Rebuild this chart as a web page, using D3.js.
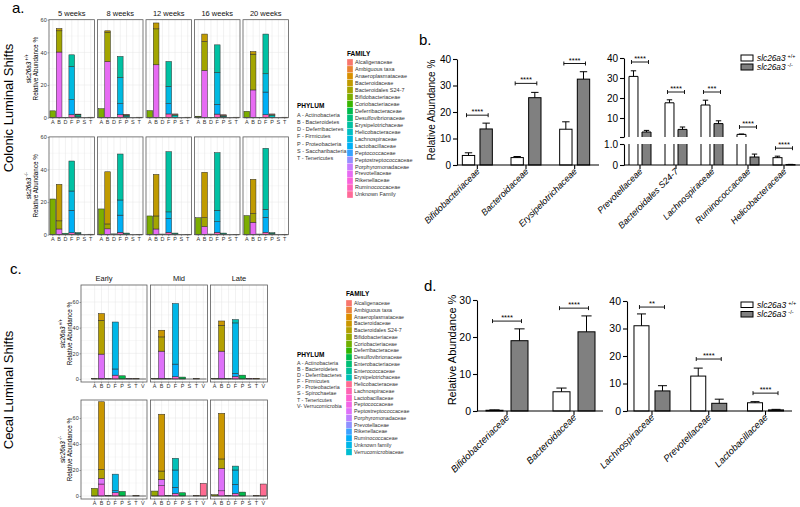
<!DOCTYPE html>
<html><head><meta charset="utf-8">
<script src="https://cdn.jsdelivr.net/npm/d3@7"></script>
<style>
body{margin:0;background:#fff;}
svg{display:block;font-family:"Liberation Sans",Arial,sans-serif;}
</style></head><body>
<svg id="chart" width="800" height="507"></svg>
<script>
// ---------------- DATA ----------------
const colonicFamilies = ["Alcaligenaceae","Ambiguous taxa","Anaeroplasmataceae","Bacteroidaceae","Bacteroidales S24-7","Bifidobacteriaceae","Coriobacteriaceae","Deferribacteraceae","Desulfovibrionaceae","Erysipelotrichaceae","Helicobacteraceae","Lachnospiraceae","Lactobacillaceae","Peptococcaceae","Peptostreptococcaceae","Porphyromonadaceae","Prevotellaceae","Rikenellaceae","Ruminococcaceae","Unknown Family"];
const colonicPhyla = ["A","B","D","F","P","S","T"];
const colonicPhylumNames = ["A - Actinobacteria","B - Bacteroidetes","D - Deferribacteres","F - Firmicutes","P - Proteobacteria","S - Saccharibacteria","T - Tenericutes"];
const colonicWeeks = ["5 weeks","8 weeks","12 weeks","16 weeks","20 weeks"];
const facetTicks = [0,20,40,60];

// [phylum, family, relative abundance %]
const colonicWT_5w = [["A","Bifidobacteriaceae",4.2],["B","Prevotellaceae",40.2],["B","Bacteroidales S24-7",13.0],["B","Bacteroidaceae",1.4],["D","Deferribacteraceae",0.2],["F","Ruminococcaceae",1.8],["F","Lactobacillaceae",9.2],["F","Lachnospiraceae",20.4],["F","Erysipelotrichaceae",7.1],["P","Helicobacteraceae",1.0],["P","Desulfovibrionaceae",0.8],["P","Alcaligenaceae",0.4],["T","Anaeroplasmataceae",0.3]];
const colonicWT_8w = [["A","Bifidobacteriaceae",5.5],["B","Prevotellaceae",34.4],["B","Bacteroidales S24-7",18.0],["B","Bacteroidaceae",0.8],["D","Deferribacteraceae",0.2],["F","Ruminococcaceae",1.8],["F","Lactobacillaceae",6.8],["F","Lachnospiraceae",16.0],["F","Erysipelotrichaceae",12.9],["P","Helicobacteraceae",1.0],["P","Desulfovibrionaceae",0.6],["P","Alcaligenaceae",0.4],["T","Anaeroplasmataceae",0.3]];
const colonicWT_12w = [["A","Bifidobacteriaceae",4.3],["B","Prevotellaceae",32.4],["B","Bacteroidales S24-7",22.0],["B","Bacteroidaceae",3.6],["D","Deferribacteraceae",0.2],["F","Ruminococcaceae",2.3],["F","Lactobacillaceae",6.3],["F","Lachnospiraceae",10.6],["F","Erysipelotrichaceae",15.2],["P","Helicobacteraceae",1.2],["P","Desulfovibrionaceae",0.7],["P","Alcaligenaceae",0.4],["T","Anaeroplasmataceae",0.3]];
const colonicWT_16w = [["A","Bifidobacteriaceae",0.5],["A","Coriobacteriaceae",0.4],["B","Prevotellaceae",29.0],["B","Bacteroidales S24-7",17.7],["B","Bacteroidaceae",4.5],["D","Deferribacteraceae",0.2],["F","Ruminococcaceae",2.2],["F","Lactobacillaceae",6.0],["F","Lachnospiraceae",19.5],["F","Erysipelotrichaceae",16.9],["P","Helicobacteraceae",0.9],["P","Desulfovibrionaceae",0.5],["P","Alcaligenaceae",0.4],["T","Anaeroplasmataceae",0.3]];
const colonicWT_20w = [["A","Bifidobacteriaceae",3.9],["B","Prevotellaceae",17.0],["B","Bacteroidales S24-7",21.9],["B","Bacteroidaceae",1.6],["D","Deferribacteraceae",0.2],["F","Ruminococcaceae",1.8],["F","Lactobacillaceae",13.9],["F","Lachnospiraceae",11.2],["F","Erysipelotrichaceae",24.3],["P","Helicobacteraceae",1.2],["P","Desulfovibrionaceae",0.7],["P","Alcaligenaceae",0.4],["T","Anaeroplasmataceae",0.3]];
const colonicKO_5w = [["A","Bifidobacteriaceae",21.9],["B","Prevotellaceae",3.5],["B","Bacteroidales S24-7",5.0],["B","Bacteroidaceae",22.4],["D","Deferribacteraceae",0.9],["F","Ruminococcaceae",1.2],["F","Lactobacillaceae",13.8],["F","Lachnospiraceae",11.8],["F","Erysipelotrichaceae",18.4],["P","Helicobacteraceae",0.8],["P","Desulfovibrionaceae",0.5],["T","Anaeroplasmataceae",0.3]];
const colonicKO_8w = [["A","Bifidobacteriaceae",15.8],["B","Prevotellaceae",3.6],["B","Bacteroidales S24-7",3.0],["B","Bacteroidaceae",32.0],["D","Deferribacteraceae",0.5],["F","Ruminococcaceae",1.5],["F","Lactobacillaceae",10.5],["F","Lachnospiraceae",9.3],["F","Erysipelotrichaceae",28.2],["P","Helicobacteraceae",0.6],["P","Desulfovibrionaceae",0.4],["T","Anaeroplasmataceae",0.2]];
const colonicKO_12w = [["A","Bifidobacteriaceae",11.5],["B","Prevotellaceae",3.5],["B","Bacteroidales S24-7",8.0],["B","Bacteroidaceae",25.5],["D","Deferribacteraceae",0.4],["F","Ruminococcaceae",1.5],["F","Lactobacillaceae",8.5],["F","Lachnospiraceae",4.0],["F","Erysipelotrichaceae",36.9],["P","Helicobacteraceae",0.6],["P","Desulfovibrionaceae",0.4],["T","Anaeroplasmataceae",0.2]];
const colonicKO_16w = [["A","Bifidobacteriaceae",10.4],["B","Prevotellaceae",5.0],["B","Bacteroidales S24-7",5.4],["B","Bacteroidaceae",27.9],["D","Deferribacteraceae",0.4],["F","Ruminococcaceae",1.5],["F","Lactobacillaceae",6.5],["F","Lachnospiraceae",7.0],["F","Erysipelotrichaceae",35.3],["P","Helicobacteraceae",0.6],["P","Desulfovibrionaceae",0.4],["T","Anaeroplasmataceae",0.2]];
const colonicKO_20w = [["A","Bifidobacteriaceae",11.7],["B","Prevotellaceae",7.6],["B","Bacteroidales S24-7",5.4],["B","Bacteroidaceae",21.0],["D","Deferribacteraceae",0.4],["F","Ruminococcaceae",1.5],["F","Lactobacillaceae",9.2],["F","Lachnospiraceae",4.9],["F","Erysipelotrichaceae",37.4],["P","Helicobacteraceae",0.7],["P","Desulfovibrionaceae",0.5],["T","Anaeroplasmataceae",0.2]];

const cecalFamilies = ["Alcaligenaceae","Ambiguous taxa","Anaeroplasmataceae","Bacteroidaceae","Bacteroidales S24-7","Bifidobacteriaceae","Coriobacteriaceae","Deferribacteraceae","Desulfovibrionaceae","Enterobacteriaceae","Enterococcaceae","Erysipelotrichaceae","Helicobacteraceae","Lachnospiraceae","Lactobacillaceae","Peptococcaceae","Peptostreptococcaceae","Porphyromonadaceae","Prevotellaceae","Rikenellaceae","Ruminococcaceae","Unknown family","Verrucomicrobiaceae"];
const cecalPhyla = ["A","B","D","F","P","S","T","V"];
const cecalPhylumNames = ["A - Actinobacteria","B - Bacteroidetes","D - Deferribacteres","F - Firmicutes","P - Proteobacteria","S - Spirochaetae","T - Tenericutes","V- Verrucomicrobia"];
const cecalStages = ["Early","Mid","Late"];

const cecalWT_Early = [["A","Bifidobacteriaceae",0.5],["B","Rikenellaceae",0.5],["B","Prevotellaceae",18.9],["B","Bacteroidales S24-7",26.3],["B","Bacteroidaceae",5.3],["D","Deferribacteraceae",0.2],["F","Ruminococcaceae",3.0],["F","Lactobacillaceae",4.8],["F","Lachnospiraceae",36.6],["P","Desulfovibrionaceae",2.5],["S","Unknown family",0.3],["T","Anaeroplasmataceae",0.3]];
const cecalWT_Mid = [["A","Bifidobacteriaceae",0.5],["B","Rikenellaceae",0.5],["B","Prevotellaceae",21.2],["B","Bacteroidales S24-7",11.1],["B","Bacteroidaceae",5.2],["D","Deferribacteraceae",0.2],["F","Ruminococcaceae",1.8],["F","Lactobacillaceae",9.8],["F","Lachnospiraceae",47.2],["P","Desulfovibrionaceae",1.5],["T","Anaeroplasmataceae",0.3]];
const cecalWT_Late = [["A","Bifidobacteriaceae",0.5],["B","Rikenellaceae",0.5],["B","Prevotellaceae",21.2],["B","Bacteroidales S24-7",20.1],["B","Bacteroidaceae",3.4],["D","Deferribacteraceae",0.2],["F","Ruminococcaceae",2.0],["F","Lactobacillaceae",2.4],["F","Lachnospiraceae",39.3],["F","Erysipelotrichaceae",2.6],["P","Desulfovibrionaceae",3.0],["S","Unknown family",0.5],["T","Anaeroplasmataceae",0.5]];
const cecalKO_Early = [["A","Bifidobacteriaceae",5.9],["B","Rikenellaceae",9.2],["B","Prevotellaceae",4.4],["B","Bacteroidales S24-7",6.9],["B","Bacteroidaceae",52.0],["D","Deferribacteraceae",0.3],["F","Ruminococcaceae",2.5],["F","Lactobacillaceae",1.6],["F","Lachnospiraceae",12.7],["P","Desulfovibrionaceae",3.5],["T","Anaeroplasmataceae",0.3]];
const cecalKO_Mid = [["A","Bifidobacteriaceae",3.8],["B","Rikenellaceae",8.0],["B","Prevotellaceae",4.8],["B","Bacteroidales S24-7",6.4],["B","Bacteroidaceae",43.7],["D","Deferribacteraceae",0.3],["F","Ruminococcaceae",2.0],["F","Lactobacillaceae",4.7],["F","Lachnospiraceae",13.3],["F","Erysipelotrichaceae",9.0],["P","Desulfovibrionaceae",2.5],["T","Anaeroplasmataceae",0.3],["V","Verrucomicrobiaceae",9.7]];
const cecalKO_Late = [["A","Bifidobacteriaceae",1.0],["B","Rikenellaceae",4.0],["B","Prevotellaceae",17.3],["B","Bacteroidales S24-7",7.2],["B","Bacteroidaceae",35.1],["D","Deferribacteraceae",0.3],["F","Ruminococcaceae",2.0],["F","Lactobacillaceae",7.0],["F","Lachnospiraceae",11.0],["F","Erysipelotrichaceae",3.0],["P","Desulfovibrionaceae",3.0],["T","Anaeroplasmataceae",0.3],["V","Verrucomicrobiaceae",9.2]];

// panel b
const bLeftFamilies = ["Bifidobacteriaceae","Bacteroidaceae","Erysipelotrichaceae"];
const bLeftWT = [3.6, 2.8, 13.5];
const bLeftWTsem = [1.0, 0.4, 2.8];
const bLeftKO = [13.6, 25.4, 32.4];
const bLeftKOsem = [2.2, 2.0, 2.8];
const bLeftSig = ["****","****","****"];
const bLeftSigAt = [18.8, 30.8, 38.3];
const bLeftTicks = [0,10,20,30,40];

const bRightFamilies = ["Prevotellaceae","Bacteroidales S24-7","Lachnospiraceae","Ruminococcaceae","Helicobacteraceae"];
const bRightWT = [30.8, 17.6, 16.5, 1.8, 0.35];
const bRightWTsem = [2.8, 1.5, 2.4, 0.2, 0.07];
const bRightKO = [3.0, 4.3, 7.2, 0.38, 0.02];
const bRightKOsem = [0.8, 1.2, 1.4, 0.14, 0.01];
const bRightSig = ["****","****","***","****","****"];
const bRightSigAt = [38, 23, 23, 5.5, 0.8];
const bRightTicksHigh = [10,20,30,40];
const bRightTicksLow = [0,1];

// panel d
const dLeftFamilies = ["Bifidobacteriaceae","Bacteroidaceae"];
const dLeftWT = [0.2, 5.2];
const dLeftWTsem = [0.1, 1.0];
const dLeftKO = [19.0, 21.4];
const dLeftKOsem = [3.2, 4.3];
const dLeftSig = ["****","****"];
const dLeftSigAt = [24.3, 27.8];
const dLeftTicks = [0,10,20,30];

const dRightFamilies = ["Lachnospiraceae","Prevotellaceae","Lactobacillaceae"];
const dRightWT = [31.0, 12.7, 3.0];
const dRightWTsem = [4.3, 2.9, 0.4];
const dRightKO = [7.3, 2.8, 0.4];
const dRightKOsem = [1.9, 1.5, 0.2];
const dRightSig = ["**","****","****"];
const dRightSigAt = [37.8, 18.9, 6.5];
const dRightTicks = [0,10,20,30,40];

const genotypes = ["WT","KO"];

// ---------------- HELPERS ----------------
const svg = d3.select("#chart");

function hueColor(h){
  const l=65,c=100,hr=h*Math.PI/180;
  const U=c*Math.cos(hr),V=c*Math.sin(hr);
  const Y=100*Math.pow((l+16)/116,3);
  const up=U/(13*l)+0.1978398, vp=V/(13*l)+0.4683363;
  const X=9*Y*up/(4*vp), Z=-X/3-5*Y+3*Y/vp;
  const x=X/100,y=Y/100,z=Z/100;
  const lin=[3.240479*x-1.537150*y-0.498535*z,-0.969256*x+1.875992*y+0.041556*z,0.055648*x-0.204043*y+1.057311*z];
  const v=lin.map(u=>{u=u>0.00304?1.055*Math.pow(u,1/2.4)-0.055:12.92*u;return Math.round(255*Math.max(0,Math.min(1,u)));});
  return d3.rgb(v[0],v[1],v[2]).formatHex();
}
function huePalette(n){return d3.range(n).map(i=>hueColor(15+360*i/n));}

function genoTitle(sel, x, y, geno, rotate, size){
  const t=sel.append("text").attr("font-size",size).attr("text-anchor","middle")
    .attr("transform",`translate(${x},${y}) rotate(${rotate})`);
  t.append("tspan").attr("font-style","italic").text("slc26a3");
  t.append("tspan").attr("font-size",size*0.7).attr("dy",-size*0.4).text(" "+geno);
  return t;
}

function facetGrid(o){
  const g=svg.append("g");
  const pal=huePalette(o.families.length);
  const col=new Map(o.families.map((f,i)=>[f,pal[i]]));
  const idx=new Map(o.families.map((f,i)=>[f,i]));
  o.rows.forEach((row,ri)=>{
    const y=d3.scaleLinear().domain([0,60]).range([row.zero,row.sixty]);
    o.cols.forEach((c,ci)=>{
      const bx0=c.bx0!==undefined?c.bx0:c.x;
      const x=d3.scaleBand().domain(o.phyla).range([bx0,c.x+c.w]).paddingInner(0.1).paddingOuter(0.15);
      const p=g.append("g");
      p.append("rect").attr("x",c.x).attr("y",row.top).attr("width",c.w).attr("height",row.bottom-row.top).attr("fill","#fff");
      const maxV=y.invert(row.top);
      d3.range(0,maxV,10).forEach(v=>{
        p.append("line").attr("x1",c.x).attr("x2",c.x+c.w).attr("y1",y(v)).attr("y2",y(v))
          .attr("stroke",v%20===0?"#e4e4e4":"#f1f1f1").attr("stroke-width",0.5);
      });
      o.phyla.forEach(ph=>{
        const cx=x(ph)+x.bandwidth()/2;
        p.append("line").attr("x1",cx).attr("x2",cx).attr("y1",row.top).attr("y2",row.bottom).attr("stroke","#e4e4e4").attr("stroke-width",0.5);
      });
      const data=o.data[ri][ci];
      o.phyla.forEach(ph=>{
        const segs=data.filter(d=>d[0]===ph).sort((a,b)=>idx.get(b[1])-idx.get(a[1]));
        let cum=0;
        segs.forEach(s=>{
          const y0=cum,y1=cum+s[2];cum=y1;
          p.append("rect").attr("x",x(ph)).attr("width",x.bandwidth()).attr("y",y(y1)).attr("height",y(y0)-y(y1))
            .attr("fill",col.get(s[1])).attr("stroke","#2a2a2a").attr("stroke-width",0.5);
        });
      });
      p.append("line").attr("x1",x(o.phyla[0])).attr("x2",x(o.phyla[o.phyla.length-1])+x.bandwidth())
        .attr("y1",y(0)).attr("y2",y(0)).attr("stroke","#2a2a2a").attr("stroke-width",0.7);
      p.append("rect").attr("x",c.x).attr("y",row.top).attr("width",c.w).attr("height",row.bottom-row.top)
        .attr("fill","none").attr("stroke","#5a5a5a").attr("stroke-width",0.8);
      const ax=p.append("g").attr("transform",`translate(0,${row.bottom})`)
        .call(d3.axisBottom(x).tickSize(1.5).tickPadding(0.5).tickSizeOuter(0));
      ax.select(".domain").remove();
      ax.selectAll("text").attr("font-size",o.tickFont).attr("fill","#333").attr("font-family",'"Liberation Sans",Arial,sans-serif');
      ax.selectAll("line").attr("stroke","#555").attr("stroke-width",0.5);
      if(ci===0){
        const ay=p.append("g").attr("transform",`translate(${c.x},0)`)
          .call(d3.axisLeft(y).tickValues(facetTicks).tickSize(1.5).tickPadding(0.8));
        ay.select(".domain").remove();
        ay.selectAll("text").attr("font-size",o.tickFont).attr("fill","#333").attr("font-family",'"Liberation Sans",Arial,sans-serif');
        ay.selectAll("line").attr("stroke","#555").attr("stroke-width",0.5);
        const cy=(row.top+row.bottom)/2;
        genoTitle(g,o.titleX1,cy,row.geno,-90,o.titleFont);
        g.append("text").attr("font-size",o.titleFont).attr("text-anchor","middle")
          .attr("transform",`translate(${o.titleX2},${cy}) rotate(-90)`).text("Relative Abundance %");
      }
      if(ri===0){
        g.append("text").attr("x",c.lx!==undefined?c.lx:c.x+c.w/2).attr("y",o.stripY).attr("text-anchor","middle")
          .attr("font-size",o.stripFont).attr("fill","#111").text(o.colLabels[ci]);
      }
    });
  });
  // phylum legend
  const lp=g.append("g");
  lp.append("text").attr("x",o.phylumX).attr("y",o.phylumY).attr("font-size",o.legTitleFont).attr("font-weight","bold").text("PHYLUM");
  o.phylumNames.forEach((n,i)=>{
    lp.append("text").attr("x",o.phylumX).attr("y",o.phylumY+o.phylumGap*(i+1)+1.5).attr("font-size",o.legFont).attr("fill","#333").text(n);
  });
  // family legend
  const lf=g.append("g");
  lf.append("text").attr("x",o.famX).attr("y",o.famTitleY).attr("font-size",o.legTitleFont).attr("font-weight","bold").text("FAMILY");
  o.families.forEach((f,i)=>{
    const yy=o.famY+i*o.famGap;
    lf.append("rect").attr("x",o.famX).attr("y",yy).attr("width",6).attr("height",o.famGap)
      .attr("fill",pal[o.keyIndex?o.keyIndex(i):i]).attr("stroke","#fff").attr("stroke-width",0.3);
    lf.append("text").attr("x",o.famX+8).attr("y",yy+o.famGap/2+1.8).attr("font-size",o.legFont).attr("fill","#333").text(f);
  });
}

function barChart(o){
  const g=svg.append("g");
  const x=d3.scaleBand().domain(o.families).range(o.xRange);
  const xs=d3.scaleBand().domain(genotypes).range(o.inner).paddingInner(o.innerPad);
  const bw=xs.bandwidth();
  const yv=o.yv;
  const vals={WT:o.wt,KO:o.ko}, sems={WT:o.wtSem,KO:o.koSem};
  const fill={WT:"#ffffff",KO:"#808080"};
  o.families.forEach((f,i)=>{
    const cx=x(f)+x.bandwidth()/2;
    genotypes.forEach(gt=>{
      const v=vals[gt][i], e=sems[gt][i];
      const bx=cx+xs(gt);
      o.drawBar(g,bx,bw,v,fill[gt]);
      if(e>0){
        const top=yv(v+e);
        g.append("line").attr("x1",bx+bw/2).attr("x2",bx+bw/2).attr("y1",yv(v)).attr("y2",top).attr("stroke","#000").attr("stroke-width",1);
        g.append("line").attr("x1",bx+bw*0.2).attr("x2",bx+bw*0.8).attr("y1",top).attr("y2",top).attr("stroke","#000").attr("stroke-width",1);
      }
    });
    const x1=cx+xs("WT")+bw/2-2, x2=cx+xs("KO")+bw/2+2, yy=yv(o.sigAt[i]);
    g.append("line").attr("x1",x1).attr("x2",x2).attr("y1",yy).attr("y2",yy).attr("stroke","#000").attr("stroke-width",0.9);
    [x1,x2].forEach(xx=>g.append("line").attr("x1",xx).attr("x2",xx).attr("y1",yy-2).attr("y2",yy+2).attr("stroke","#000").attr("stroke-width",0.9));
    g.append("text").attr("x",(x1+x2)/2).attr("y",yy-1).attr("text-anchor","middle").attr("font-size",o.sigFont).text(o.sig[i]);
    g.append("text").attr("font-size",o.labelFont).attr("font-style","italic").attr("text-anchor","end")
      .attr("transform",`translate(${cx+3},${o.xAxisY+7}) rotate(-45)`).text(f);
  });
  g.append("line").attr("x1",o.axisX).attr("x2",o.xAxisEnd).attr("y1",o.xAxisY).attr("y2",o.xAxisY).attr("stroke","#000").attr("stroke-width",1.1);
  const ax=g.append("g").attr("transform",`translate(0,${o.xAxisY})`).call(d3.axisBottom(x).tickSize(4).tickSizeOuter(0).tickFormat(""));
  ax.select(".domain").remove();
  ax.selectAll("line").attr("stroke","#000").attr("stroke-width",1.1);
  o.yAxes.forEach(a=>{
    const ay=g.append("g").attr("transform",`translate(${o.axisX},0)`)
      .call(d3.axisLeft(a.scale).tickValues(a.ticks).tickSize(4).tickSizeOuter(0).tickPadding(2).tickFormat(a.format||(d=>d)));
    ay.select(".domain").attr("stroke","#000").attr("stroke-width",1.1);
    ay.selectAll("line").attr("stroke","#000").attr("stroke-width",1.1);
    ay.selectAll("text").attr("font-size",o.tickFont).attr("fill","#000").attr("font-family",'"Liberation Sans",Arial,sans-serif');
  });
  if(o.yTitle){
    g.append("text").attr("font-size",o.titleFont).attr("text-anchor","middle")
      .attr("transform",`translate(${o.yTitleX},${o.yTitleY}) rotate(-90)`).text(o.yTitle);
  }
  if(o.legend){
    const L=o.legend;
    [["WT","+/+"],["KO","-/-"]].forEach(([gt,lab],i)=>{
      g.append("rect").attr("x",L.x).attr("y",L.y+i*L.gap).attr("width",12).attr("height",L.h).attr("fill",fill[gt]).attr("stroke","#000").attr("stroke-width",1);
      const t=g.append("text").attr("font-size",L.font).attr("transform",`translate(${L.x+16},${L.y+i*L.gap+L.h/2+3})`);
      t.append("tspan").attr("font-style","italic").text("slc26a3");
      t.append("tspan").attr("font-size",L.font*0.65).attr("dx",2).attr("dy",-L.font*0.35).text(lab);
    });
  }
}

function simpleBar(y){
  return (g,bx,bw,v,fill)=>{
    g.append("rect").attr("x",bx).attr("y",y(v)).attr("width",bw).attr("height",Math.max(0,y(0)-y(v)))
      .attr("fill",fill).attr("stroke","#000").attr("stroke-width",1);
  };
}

// ---------------- PANEL a ----------------
const colX=[49,97.5,146,194.5,243];
facetGrid({
  families:colonicFamilies, phyla:colonicPhyla, phylumNames:colonicPhylumNames, colLabels:colonicWeeks,
  cols:colX.map(x=>({x:x,w:45.5})),
  rows:[{top:19.7,bottom:117.7,zero:117.7,sixty:19.7,geno:"+/+"},{top:136.9,bottom:234.7,zero:234.7,sixty:136.9,geno:"-/-"}],
  data:[[colonicWT_5w,colonicWT_8w,colonicWT_12w,colonicWT_16w,colonicWT_20w],[colonicKO_5w,colonicKO_8w,colonicKO_12w,colonicKO_16w,colonicKO_20w]],
  tickFont:5.5, stripFont:7.5, stripY:16, titleFont:6.3, titleX1:31, titleX2:38,
  phylumX:297, phylumY:108, phylumGap:7.2, legTitleFont:6.5, legFont:5.5,
  famX:347, famTitleY:56, famY:59, famGap:6.95
});

// ---------------- PANEL c ----------------
facetGrid({
  families:cecalFamilies, phyla:cecalPhyla, phylumNames:cecalPhylumNames, colLabels:cecalStages,
  cols:[{x:81,w:66,bx0:90.5,lx:104},{x:150.5,w:57},{x:210.5,w:57}],
  rows:[{top:285,bottom:382,zero:379,sixty:302,geno:"+/+"},{top:400,bottom:499,zero:496,sixty:418,geno:"-/-"}],
  data:[[cecalWT_Early,cecalWT_Mid,cecalWT_Late],[cecalKO_Early,cecalKO_Mid,cecalKO_Late]],
  tickFont:5.5, stripFont:7.5, stripY:281, titleFont:6.3, titleX1:65, titleX2:72,
  phylumX:297, phylumY:357, phylumGap:6.15, legTitleFont:6.5, legFont:5.3,
  famX:346, famTitleY:296, famY:300, famGap:6.75,
  keyIndex:i=>i<12?i:34-i
});

// ---------------- PANEL b ----------------
const bLy=d3.scaleLinear().domain([0,40]).range([165,59]);
barChart({
  families:bLeftFamilies, wt:bLeftWT, wtSem:bLeftWTsem, ko:bLeftKO, koSem:bLeftKOsem, sig:bLeftSig, sigAt:bLeftSigAt,
  xRange:[453,599], inner:[-15,15], innerPad:0.3, yv:bLy, drawBar:simpleBar(bLy),
  axisX:457, xAxisEnd:599, xAxisY:165, yAxes:[{scale:bLy,ticks:bLeftTicks}],
  tickFont:10, labelFont:9, sigFont:7.5, titleFont:10, yTitle:"Relative  Abundance %", yTitleX:435, yTitleY:110
});
const bRlow=d3.scaleLinear().domain([0,1]).range([165,144]);
const bRhigh=d3.scaleLinear().domain([0.5,40]).range([137,58]);
const bRy=v=>v<=1?bRlow(v):bRhigh(v);
barChart({
  families:bRightFamilies, wt:bRightWT, wtSem:bRightWTsem, ko:bRightKO, koSem:bRightKOsem, sig:bRightSig, sigAt:bRightSigAt,
  xRange:[622,802], inner:[-11,11], innerPad:0.31, yv:bRy,
  drawBar:(g,bx,bw,v,fill)=>{
    if(v<=1){
      g.append("rect").attr("x",bx).attr("y",bRlow(v)).attr("width",bw).attr("height",bRlow(0)-bRlow(v)).attr("fill",fill).attr("stroke","#000").attr("stroke-width",1);
    } else {
      g.append("path").attr("d",`M${bx},${bRlow(0)}V${bRlow(1)}H${bx+bw}V${bRlow(0)}Z`).attr("fill",fill).attr("stroke","none");
      g.append("path").attr("d",`M${bx},${bRlow(0)}V${bRlow(1)}M${bx+bw},${bRlow(1)}V${bRlow(0)}`).attr("stroke","#000").attr("stroke-width",1);
      g.append("path").attr("d",`M${bx},${bRhigh(0.5)}V${bRhigh(v)}H${bx+bw}V${bRhigh(0.5)}Z`).attr("fill",fill).attr("stroke","none");
      g.append("path").attr("d",`M${bx},${bRhigh(0.5)}V${bRhigh(v)}H${bx+bw}V${bRhigh(0.5)}`).attr("fill","none").attr("stroke","#000").attr("stroke-width",1);
    }
  },
  axisX:624, xAxisEnd:800, xAxisY:165,
  yAxes:[{scale:bRlow,ticks:bRightTicksLow,format:d=>d===1?"1.0":d},{scale:bRhigh,ticks:[0.5].concat(bRightTicksHigh),format:d=>d<1?"":d}],
  tickFont:10, labelFont:9, sigFont:7.5,
  legend:{x:741,y:55,gap:9,h:6,font:8.3}
});

// ---------------- PANEL d ----------------
const dLy=d3.scaleLinear().domain([0,30]).range([411,300]);
barChart({
  families:dLeftFamilies, wt:dLeftWT, wtSem:dLeftWTsem, ko:dLeftKO, koSem:dLeftKOsem, sig:dLeftSig, sigAt:dLeftSigAt,
  xRange:[473.5,607.5], inner:[-21,21], innerPad:0.32, yv:dLy, drawBar:simpleBar(dLy),
  axisX:477, xAxisEnd:603, xAxisY:411, yAxes:[{scale:dLy,ticks:dLeftTicks}],
  tickFont:10.5, labelFont:9.5, sigFont:7.5, titleFont:11, yTitle:"Relative  Abundance %", yTitleX:456, yTitleY:350
});
const dRy=d3.scaleLinear().domain([0,40]).range([411,301]);
barChart({
  families:dRightFamilies, wt:dRightWT, wtSem:dRightWTsem, ko:dRightKO, koSem:dRightKOsem, sig:dRightSig, sigAt:dRightSigAt,
  xRange:[623.6,793.9], inner:[-18,18], innerPad:0.286, yv:dRy, drawBar:simpleBar(dRy),
  axisX:627, xAxisEnd:792, xAxisY:411, yAxes:[{scale:dRy,ticks:dRightTicks}],
  tickFont:10.5, labelFont:9.5, sigFont:7.5,
  legend:{x:741,y:302,gap:9.5,h:5.5,font:8.5}
});

// ---------------- LABELS ----------------
[["a.",12,13],["b.",419,45],["c.",10,274],["d.",424,291]].forEach(([t,x,y])=>{
  svg.append("text").attr("x",x).attr("y",y).attr("font-size",15).text(t);
});
[["Colonic Luminal Shifts",13,108],["Cecal Luminal Shifts",13,390]].forEach(([t,x,y])=>{
  svg.append("text").attr("font-size",13).attr("text-anchor","middle")
    .attr("transform",`translate(${x},${y}) rotate(-90)`).text(t);
});
</script>
</body></html>
